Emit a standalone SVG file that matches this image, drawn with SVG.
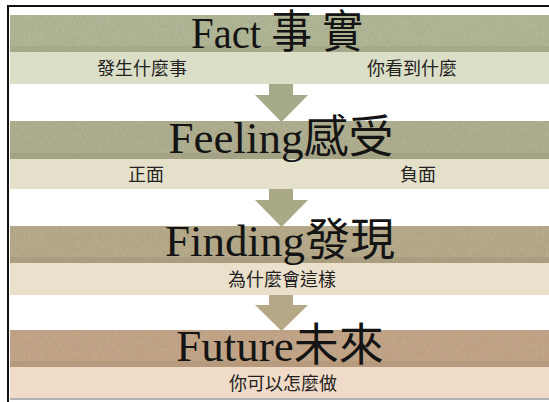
<svg xmlns="http://www.w3.org/2000/svg" width="549" height="402" viewBox="0 0 549 402">
<style>
.title{font-family:"Liberation Serif","Noto Sans CJK TC",serif;font-size:45px;fill:#141414;text-anchor:middle}
.sub{font-family:"Noto Sans CJK TC","Liberation Serif",sans-serif;font-size:18px;fill:#222;text-anchor:middle}
.tex{fill:url(#noise);opacity:0.35}
</style>
<defs>
<filter id="grain" x="0" y="0" width="100%" height="100%">
<feTurbulence type="fractalNoise" baseFrequency="0.9 0.25" numOctaves="2" seed="3"/>
<feColorMatrix type="matrix" values="0 0 0 0 1  0 0 0 0 1  0 0 0 0 1  0 0 0 0.6 -0.2"/>
</filter>
<pattern id="noise" width="549" height="40" patternUnits="userSpaceOnUse">
<rect width="549" height="40" filter="url(#grain)"/>
</pattern>
</defs>
<rect width="549" height="402" fill="#ffffff"/>
<g id="frame">
<line x1="7" y1="6" x2="549" y2="6" stroke="#111" stroke-width="2"/>
<line x1="8" y1="5" x2="8" y2="402" stroke="#111" stroke-width="2"/>
<line x1="10" y1="399" x2="549" y2="399" stroke="#9a9a9a" stroke-width="1.5"/>
</g>
<g id="connectors">
<path d="M269 84 H293 V95 H308 L281.5 122 L255 95 H269 Z" fill="#a6aa8b"/>
<path d="M269 189 H293 V200 H308 L281.5 227 L255 200 H269 Z" fill="#a9a887"/>
<path d="M269 295 H293 V305 H308 L281.5 331 L255 305 H269 Z" fill="#b5a886"/>
</g>
<g id="fact">
<rect x="10" y="15" width="539" height="37" fill="#aab08f"/>
<rect x="10" y="15" width="539" height="37" class="tex"/>
<rect x="10" y="46" width="539" height="6" fill="#9ea383" opacity="0.6"/>
<rect x="10" y="52" width="539" height="32" fill="#dcdfc7"/>
<text class="title" x="277" y="48" textLength="172" lengthAdjust="spacingAndGlyphs">Fact 事 實</text>
<text class="sub" x="142" y="75">發生什麼事</text>
<text class="sub" x="412" y="75">你看到什麼</text>
</g>
<g id="feeling">
<rect x="10" y="121" width="539" height="38" fill="#a9a889"/>
<rect x="10" y="121" width="539" height="38" class="tex"/>
<rect x="10" y="153" width="539" height="6" fill="#9e9d7e" opacity="0.6"/>
<rect x="10" y="159" width="539" height="30" fill="#e5e0c9"/>
<text class="title" x="281" y="153">Feeling感受</text>
<text class="sub" x="146" y="181">正面</text>
<text class="sub" x="418" y="181">負面</text>
</g>
<g id="finding">
<rect x="10" y="226" width="539" height="37" fill="#b0a484"/>
<rect x="10" y="226" width="539" height="37" class="tex"/>
<rect x="10" y="257" width="539" height="6" fill="#a4987a" opacity="0.6"/>
<rect x="10" y="263" width="539" height="32" fill="#ebe0cc"/>
<text class="title" x="280" y="256">Finding發現</text>
<text class="sub" x="282" y="286">為什麼會這樣</text>
</g>
<g id="future">
<rect x="10" y="330" width="539" height="37" fill="#bd9f81"/>
<rect x="10" y="330" width="539" height="37" class="tex"/>
<rect x="10" y="361" width="539" height="6" fill="#b19476" opacity="0.6"/>
<rect x="10" y="367" width="539" height="31" fill="#f0dbc8"/>
<text class="title" x="280" y="361">Future未來</text>
<text class="sub" x="283" y="390">你可以怎麼做</text>
</g>
</svg>
